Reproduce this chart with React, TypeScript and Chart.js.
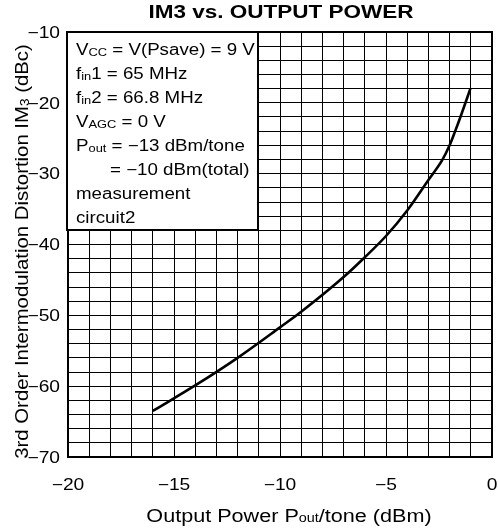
import React, { useEffect, useRef } from "react";
import { Chart, registerables } from "chart.js";

Chart.register(...registerables);

const chartTitle = "IM3 vs. OUTPUT POWER";
const outputPower = [-16, -14, -12, -10, -9, -7, -6, -5, -4, -3, -2.35, -2, -1.75, -1.43, -1.02];
const im3 = [-63.5, -59.9, -56, -51.7, -49.5, -44.6, -41.8, -38.8, -35.2, -30.9, -28.1, -26, -24.1, -21.5, -18];

const xMin = -20;
const xMax = 0;
const xGridStep = 1;
const yMin = -70;
const yMax = -10;
const yGridStep = 2;
const xTickValues = [-20, -15, -10, -5, 0];
const xTickLabels = ["\u221220", "\u221215", "\u221210", "\u22125", "0"];
const yTickValues = [-10, -20, -30, -40, -50, -60, -70];
const yTickLabels = ["\u221210", "\u221220", "\u221230", "\u221240", "\u221250", "\u221260", "\u221270"];

type Part = { t: string; sub?: boolean };
const noteLines: Part[][] = [
  [{ t: "V" }, { t: "CC", sub: true }, { t: " = V(Psave) = 9 V" }],
  [{ t: "f" }, { t: "in", sub: true }, { t: "1 = 65 MHz" }],
  [{ t: "f" }, { t: "in", sub: true }, { t: "2 = 66.8 MHz" }],
  [{ t: "V" }, { t: "AGC", sub: true }, { t: " = 0 V" }],
  [{ t: "P" }, { t: "out", sub: true }, { t: " = \u221213 dBm/tone" }],
  [{ t: "= \u221210 dBm(total)" }],
  [{ t: "measurement" }],
  [{ t: "circuit2" }],
];
const xTitle: Part[] = [{ t: "Output Power P" }, { t: "out", sub: true }, { t: "/tone (dBm)" }];
const yTitle: Part[] = [
  { t: "3rd Order Intermodulation Distortion IM" },
  { t: "3", sub: true },
  { t: " (dBc)" },
];

const FONT = '"Liberation Sans", Arial, Helvetica, sans-serif';

function setFont(ctx: CanvasRenderingContext2D, size: number, bold = false) {
  ctx.font = `${bold ? "bold " : ""}${size}px ${FONT}`;
}

function drawRich(
  ctx: CanvasRenderingContext2D,
  parts: Part[],
  x: number,
  y: number,
  size: number,
  subSize: number,
  sx: number,
  align: "left" | "center" | "right",
  angle = 0,
  bold = false
) {
  ctx.save();
  ctx.translate(x, y);
  if (angle) ctx.rotate(angle);
  ctx.scale(sx, 1);
  let w = 0;
  for (const p of parts) {
    setFont(ctx, p.sub ? subSize : size, bold);
    w += ctx.measureText(p.t).width;
  }
  let cx = align === "center" ? -w / 2 : align === "right" ? -w : 0;
  ctx.textAlign = "left";
  ctx.textBaseline = "alphabetic";
  ctx.fillStyle = "#000";
  for (const p of parts) {
    setFont(ctx, p.sub ? subSize : size, bold);
    ctx.fillText(p.t, cx, p.sub ? 0.5 : 0);
    cx += ctx.measureText(p.t).width;
  }
  ctx.restore();
}

const decorPlugin = {
  id: "decor",
  afterDraw(chart: any) {
    const ctx: CanvasRenderingContext2D = chart.ctx;
    const { left, right, top, bottom } = chart.chartArea;
    const xs = chart.scales.x;
    const ys = chart.scales.y;

    // plot border
    ctx.save();
    ctx.strokeStyle = "#000";
    ctx.lineWidth = 2;
    ctx.strokeRect(left, top, right - left, bottom - top);

    // note box
    const bx = left - 1;
    const by = top;
    const bw = 258 - bx;
    const bh = 230 - by;
    ctx.fillStyle = "#fff";
    ctx.fillRect(bx, by, bw, bh);
    ctx.strokeRect(bx, by, bw, bh);
    ctx.restore();

    noteLines.forEach((line, i) => {
      const x = i === 5 ? 110 : 76;
      drawRich(ctx, line, x, 55 + i * 24, 16, 11, 1.17, "left");
    });

    // tick labels
    xTickValues.forEach((v, i) => {
      drawRich(ctx, [{ t: xTickLabels[i] }], xs.getPixelForValue(v), 490, 16, 11, 1.2, "center");
    });
    yTickValues.forEach((v, i) => {
      drawRich(ctx, [{ t: yTickLabels[i] }], 60, ys.getPixelForValue(v) + 5.8, 16, 11, 1.2, "right");
    });

    // titles
    drawRich(ctx, [{ t: chartTitle }], 281, 18.3, 18, 12, 1.25, "center", 0, true);
    drawRich(ctx, xTitle, 289, 521.5, 18, 12, 1.2, "center");
    drawRich(ctx, yTitle, 28, 251.5, 18, 12, 1.13, "center", -Math.PI / 2);
  },
};

export default function App() {
  const ref = useRef<HTMLCanvasElement>(null);
  useEffect(() => {
    document.body.style.margin = "0";
    const chart = new Chart(ref.current as HTMLCanvasElement, {
      type: "line",
      data: {
        datasets: [
          {
            data: outputPower.map((x, i) => ({ x, y: im3[i] })),
            borderColor: "#000",
            borderWidth: 2.6,
            pointRadius: 0,
            cubicInterpolationMode: "monotone",
            fill: false,
          },
        ],
      },
      options: {
        responsive: false,
        devicePixelRatio: 1,
        animation: false,
        layout: { padding: { top: 32, right: 6, left: 0, bottom: 0 } },
        plugins: { legend: { display: false }, tooltip: { enabled: false }, title: { display: false } },
        scales: {
          x: {
            type: "linear",
            min: xMin,
            max: xMax,
            border: { display: false },
            grid: { color: "#000", lineWidth: 1, drawTicks: false },
            ticks: { display: false, stepSize: xGridStep, autoSkip: false, maxTicksLimit: 100 },
            afterFit: (s: any) => {
              s.height = 72;
            },
          },
          y: {
            type: "linear",
            min: yMin,
            max: yMax,
            border: { display: false },
            grid: { color: "#000", lineWidth: 1, drawTicks: false },
            ticks: { display: false, stepSize: yGridStep, autoSkip: false, maxTicksLimit: 100 },
            afterFit: (s: any) => {
              s.width = 68;
            },
          },
        },
      } as any,
      plugins: [decorPlugin],
    });
    return () => chart.destroy();
  }, []);
  return (
    <canvas
      ref={ref}
      width={498}
      height={529}
      style={{ display: "block", width: "498px", height: "529px" }}
    />
  );
}
